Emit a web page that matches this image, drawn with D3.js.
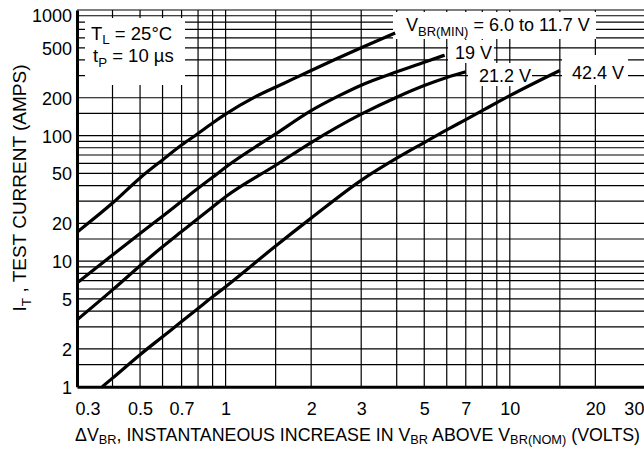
<!DOCTYPE html>
<html><head><meta charset="utf-8">
<script src="https://cdn.jsdelivr.net/npm/d3@7"></script>
<style>
body{margin:0;background:#fff;}
svg text{font-family:"Liberation Sans",Arial,Helvetica,sans-serif;fill:#000;}
</style></head><body>
<svg id="c" width="644" height="449"></svg>
<script>
// ---- data ----
const xTickValues = [0.3, 0.5, 0.7, 1, 2, 3, 5, 7, 10, 20, 30];
const yTickValues = [1, 2, 5, 10, 20, 50, 100, 200, 500, 1000];
const xGridValues = [0.4, 0.5, 0.6, 0.7, 0.8, 0.9, 1, 1.5, 2, 3, 4, 5, 6, 7, 8, 9, 10, 15, 20];
const yGridValues = [1.5, 2, 3, 4, 5, 6, 7, 8, 9, 10, 15, 20, 30, 40, 50, 60, 70, 80, 90, 100,
                     150, 200, 300, 400, 500, 600, 700, 800, 900, 1000];

const seriesLabels = ["6.0 to 11.7 V", "19 V", "21.2 V", "42.4 V"];
const dvA = [0.3, 0.4, 0.5, 0.6, 0.7, 0.8, 0.9, 1.0, 1.27, 1.6, 2.0, 3.0, 3.95];
const itA = [17, 29, 46, 64, 84, 104, 126, 148, 203, 260, 330, 500, 655];
const dvB = [0.3, 0.4, 0.5, 0.6, 0.7, 0.8, 0.9, 1.0, 1.5, 2.0, 2.5, 3.0, 4.0, 5.0, 5.9];
const itB = [6.7, 11.2, 16.6, 22.8, 30, 38, 46.5, 56, 103, 158, 207, 252, 322, 383, 437];
const dvC = [0.3, 0.4, 0.5, 0.6, 0.7, 0.8, 0.9, 1.0, 1.5, 2.0, 3.0, 4.0, 5.0, 6.0, 7.0];
const itC = [3.4, 5.9, 9.2, 13, 17.2, 21.9, 27, 32.6, 58, 88, 148, 202, 250, 290, 322];
const dvD = [0.368, 0.4, 0.5, 0.6, 0.7, 0.8, 0.9, 1.0, 1.5, 2.0, 3.0, 4.0, 5.0, 6.0, 7.0, 8.0, 9.0, 10, 15];
const itD = [1, 1.17, 1.8, 2.5, 3.3, 4.2, 5.2, 6.25, 13.2, 22, 44, 66, 88, 111, 134, 158, 183, 208, 330];

// ---- scales ----
const svg = d3.select('#c');
const x = d3.scaleLog().domain([0.3, 30]).range([77, 645.4]);
const y = d3.scaleLog().domain([1, 1000]).range([386.7, 10]);

svg.append('clipPath').attr('id', 'plotclip').append('rect')
  .attr('x', x(0.3)).attr('y', y(1000))
  .attr('width', x(30) - x(0.3)).attr('height', y(1) - y(1000));

// ---- grid ----
const grid = svg.append('g').attr('stroke', '#000').attr('stroke-width', 1.2);
grid.selectAll('line.gx').data(xGridValues).join('line').attr('class', 'gx')
  .attr('x1', d => x(d)).attr('x2', d => x(d)).attr('y1', y(1000)).attr('y2', y(1));
grid.selectAll('line.gy').data(yGridValues).join('line').attr('class', 'gy')
  .attr('x1', x(0.3)).attr('x2', x(30)).attr('y1', d => y(d)).attr('y2', d => y(d));

// ---- white label boxes ----
const boxes = [
  [85, 18, 100, 67],     // conditions box
  [393, 12, 203, 27],    // VBR(MIN) label
  [448, 40, 46, 23],     // 19 V
  [468, 63, 64, 23],     // 21.2 V
  [562, 55, 66, 30]      // 42.4 V
];
svg.append('g').selectAll('rect').data(boxes).join('rect')
  .attr('x', d => d[0]).attr('y', d => d[1]).attr('width', d => d[2]).attr('height', d => d[3])
  .attr('fill', '#fff');

// ---- curves ----
const series = [[dvA, itA], [dvB, itB], [dvC, itC], [dvD, itD]];
const line = d3.line().x(d => x(d[0])).y(d => y(d[1])).curve(d3.curveMonotoneX);
svg.append('g').attr('clip-path', 'url(#plotclip)')
  .selectAll('path').data(series).join('path')
  .attr('d', s => line(s[0].map((v, i) => [v, s[1][i]])))
  .attr('fill', 'none').attr('stroke', '#000').attr('stroke-width', 3.2)
  .attr('stroke-linejoin', 'round').attr('stroke-linecap', 'butt');

// ---- axes ----
const fs = 18;
const xAxis = svg.append('g').attr('transform', `translate(0,${y(1)})`)
  .call(d3.axisBottom(x).tickValues(xTickValues).tickSize(0).tickSizeOuter(0).tickPadding(16).tickFormat(d => String(d)));
xAxis.select('.domain').attr('stroke', '#000').attr('stroke-width', 3);
xAxis.selectAll('text').attr('font-size', fs).attr('font-family', null);
xAxis.selectAll('.tick').filter(d => d === 0.3).select('text').attr('text-anchor', 'start').attr('x', -2);
xAxis.selectAll('.tick').filter(d => d === 30).select('text').attr('text-anchor', 'end').attr('x', -1.5);

const yAxis = svg.append('g').attr('transform', `translate(${x(0.3)},0)`)
  .call(d3.axisLeft(y).tickValues(yTickValues).tickSize(0).tickSizeOuter(0).tickPadding(5).tickFormat(d => String(d)));
yAxis.select('.domain').attr('stroke', '#000').attr('stroke-width', 3);
yAxis.selectAll('text').attr('font-size', fs).attr('font-family', null).attr('dy', '0.36em');
yAxis.selectAll('.tick').filter(d => d === 1000).select('text').attr('y', 5);

// helper for text with subscripts: parts = [[text, isSub], ...]
function richText(g, parts, size, drop) {
  const d = drop === undefined ? size * 0.26 : drop;
  const t = g.append('text').attr('font-size', size);
  let sub = false;
  parts.forEach(([s, isSub]) => {
    const ts = t.append('tspan').text(s);
    if (isSub) ts.attr('font-size', size * 0.72);
    if (isSub && !sub) { ts.attr('dy', d); sub = true; }
    else if (!isSub && sub) { ts.attr('dy', -d); sub = false; }
  });
  return t;
}

// conditions
richText(svg, [['T', false], ['L', true], [' = 25°C', false]], 18.5).attr('x', 91).attr('y', 39.5);
richText(svg, [['t', false], ['P', true], [' = 10 µs', false]], 18.5).attr('x', 93).attr('y', 62);

// curve labels
richText(svg, [['V', false], ['BR(MIN)', true], [' = ' + seriesLabels[0], false]], 18).attr('x', 406).attr('y', 31);
svg.append('text').attr('font-size', 18).attr('x', 455).attr('y', 59).text(seriesLabels[1]);
svg.append('text').attr('font-size', 18).attr('x', 479).attr('y', 81.5).text(seriesLabels[2]);
svg.append('text').attr('font-size', 18).attr('x', 572).attr('y', 78.5).text(seriesLabels[3]);

// axis titles
richText(svg, [['ΔV', false], ['BR', true], [', INSTANTANEOUS INCREASE IN V', false], ['BR', true],
               [' ABOVE V', false], ['BR(NOM)', true], [' (VOLTS)', false]], 17.8, 3.5)
  .attr('x', 75).attr('y', 440.5);

const yt = svg.append('g').attr('transform', 'translate(26,188) rotate(-90)');
richText(yt, [['I', false], ['T', true], [' , TEST CURRENT (AMPS)', false]], 19).attr('text-anchor', 'middle');
</script>
</body></html>
